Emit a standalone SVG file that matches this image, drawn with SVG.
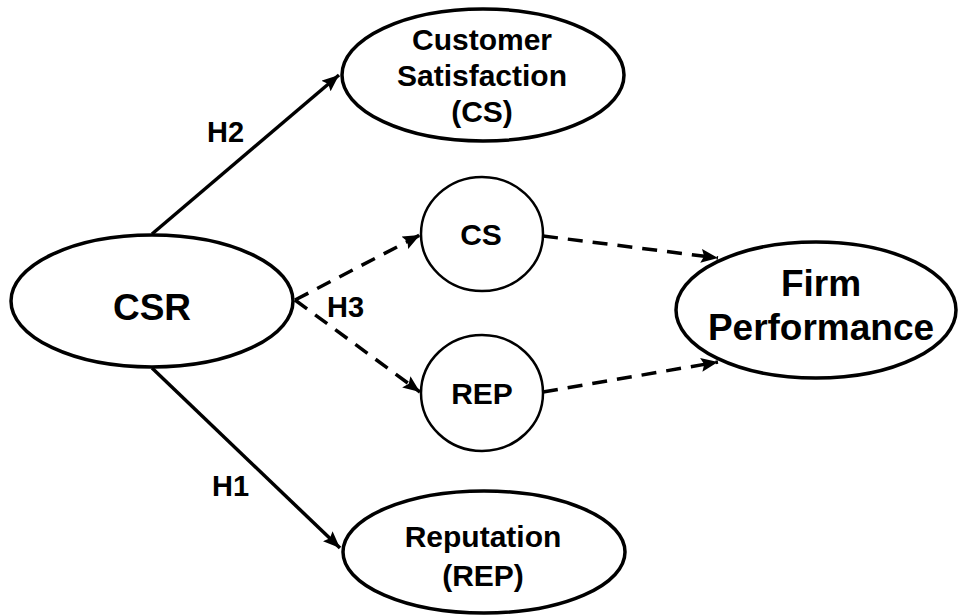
<svg xmlns="http://www.w3.org/2000/svg" width="959" height="616" viewBox="0 0 959 616">
  <style>
    .node { fill: #ffffff; stroke: #000000; stroke-width: 3.5; }
    .small { stroke-width: 2.5; }
    .lbl { font-family: "Liberation Sans", Arial, sans-serif; font-weight: bold; fill: #000000; text-anchor: middle; }
    .mid { font-size: 30px; }
    .big { font-size: 37px; }
    .hyp { font-family: "Liberation Sans", Arial, sans-serif; font-weight: bold; font-size: 29px; fill: #000000; }
    .edge { fill: none; stroke: #000000; stroke-width: 3.5; marker-end: url(#arrow); }
    .dash { stroke-dasharray: 15 10; }
  </style>
  <defs>
    <marker id="arrow" markerUnits="userSpaceOnUse" markerWidth="18" markerHeight="14" refX="17" refY="7" orient="auto">
      <path d="M0,0 L17,7 L0,14 L3,7 z" fill="#000000"/>
    </marker>
  </defs>
  <rect width="959" height="616" fill="#ffffff"/>

  <g id="connectors">
    <line class="edge" x1="152" y1="234" x2="339" y2="75"/>
    <line class="edge" x1="152" y1="368" x2="340" y2="548"/>
    <line class="edge dash" x1="295" y1="300" x2="420" y2="235"/>
    <line class="edge dash" x1="295" y1="300" x2="420" y2="392"/>
    <line class="edge dash" x1="543" y1="236" x2="718" y2="258"/>
    <line class="edge dash" x1="543" y1="392" x2="718" y2="362"/>
  </g>

  <g id="labels">
    <text class="hyp" x="207" y="142">H2</text>
    <text class="hyp" x="327" y="317">H3</text>
    <text class="hyp" x="212" y="496">H1</text>
  </g>

  <g id="csr">
    <ellipse class="node" cx="152" cy="301" rx="141" ry="66"/>
    <text class="lbl big" x="152" y="320">CSR</text>
  </g>

  <g id="customer-satisfaction">
    <ellipse class="node" cx="483" cy="75" rx="141" ry="66"/>
    <text class="lbl mid" x="482" y="50">Customer</text>
    <text class="lbl mid" x="482" y="86">Satisfaction</text>
    <text class="lbl mid" x="482" y="122">(CS)</text>
  </g>

  <g id="cs">
    <ellipse class="node small" cx="482" cy="234" rx="61" ry="57"/>
    <text class="lbl mid" x="481" y="245">CS</text>
  </g>

  <g id="rep">
    <ellipse class="node small" cx="482" cy="393" rx="61" ry="58"/>
    <text class="lbl mid" x="482" y="404">REP</text>
  </g>

  <g id="firm-performance">
    <ellipse class="node" cx="816" cy="310" rx="140" ry="68"/>
    <text class="lbl big" x="821" y="296">Firm</text>
    <text class="lbl big" x="821" y="340">Performance</text>
  </g>

  <g id="reputation">
    <ellipse class="node" cx="484" cy="552" rx="141" ry="61"/>
    <text class="lbl mid" x="483" y="547">Reputation</text>
    <text class="lbl mid" x="483" y="586">(REP)</text>
  </g>
</svg>
